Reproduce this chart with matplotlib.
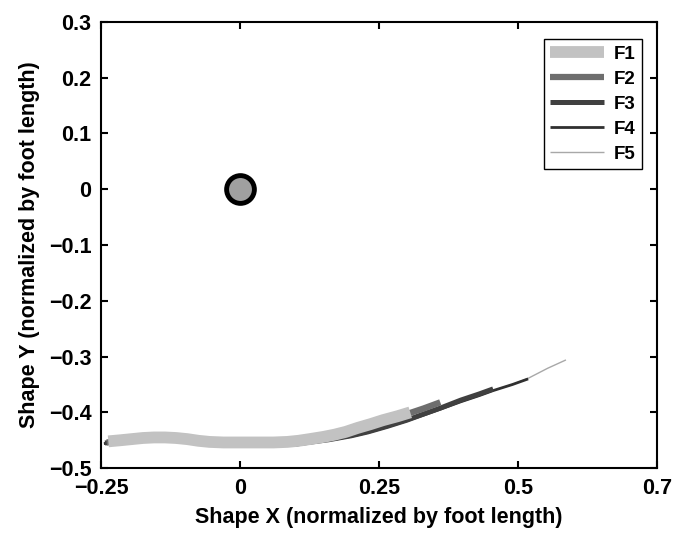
import numpy as np
import matplotlib
matplotlib.use("Agg")
import matplotlib.pyplot as plt

plt.rcParams['font.family'] = ['Liberation Sans', 'DejaVu Sans']
plt.rcParams['font.weight'] = 'bold'

# traces (x, y in foot lengths)
f1_x = [-0.237, -0.215, -0.195, -0.175, -0.155, -0.135, -0.115, -0.095, -0.075, -0.055, -0.03, 0.0, 0.03, 0.06, 0.085, 0.105, 0.125, 0.150, 0.170, 0.190, 0.211, 0.235, 0.257, 0.283, 0.306]
f1_y = [-0.452, -0.450, -0.448, -0.446, -0.445, -0.445, -0.446, -0.448, -0.451, -0.453, -0.454, -0.454, -0.454, -0.454, -0.453, -0.451, -0.448, -0.444, -0.440, -0.435, -0.428, -0.421, -0.414, -0.407, -0.400]

f2_x = [-0.240, -0.183, -0.130, -0.058, 0.0, 0.099, 0.150, 0.211, 0.257, 0.306, 0.330, 0.360]
f2_y = [-0.454, -0.447, -0.445, -0.456, -0.456, -0.456, -0.446, -0.431, -0.418, -0.401, -0.393, -0.382]

f3_x = [-0.243, -0.183, -0.130, -0.058, 0.0, 0.099, 0.160, 0.200, 0.230, 0.265, 0.300, 0.330, 0.361, 0.397, 0.430, 0.455]
f3_y = [-0.455, -0.448, -0.446, -0.457, -0.457, -0.457, -0.449, -0.442, -0.435, -0.425, -0.414, -0.403, -0.392, -0.378, -0.367, -0.358]

f4_x = [-0.245, -0.183, -0.130, -0.058, 0.0, 0.099, 0.160, 0.200, 0.230, 0.265, 0.300, 0.330, 0.361, 0.397, 0.430, 0.455, 0.490, 0.518]
f4_y = [-0.456, -0.449, -0.447, -0.458, -0.458, -0.458, -0.450, -0.443, -0.436, -0.426, -0.415, -0.405, -0.394, -0.381, -0.370, -0.361, -0.350, -0.340]

f5_x = [-0.240, -0.130, 0.0, 0.099, 0.160, 0.230, 0.300, 0.361, 0.455, 0.490, 0.518, 0.553, 0.586]
f5_y = [-0.455, -0.446, -0.457, -0.457, -0.449, -0.436, -0.414, -0.393, -0.361, -0.350, -0.339, -0.321, -0.306]

center_x = [0.0]
center_y = [0.0]

x_ticks = [-0.25, 0, 0.25, 0.5, 0.75]
x_labels = ['\u22120.25', '0', '0.25', '0.5', '0.7']
y_ticks = [0.3, 0.2, 0.1, 0, -0.1, -0.2, -0.3, -0.4, -0.5]
y_labels = ['0.3', '0.2', '0.1', '0', '\u22120.1', '\u22120.2', '\u22120.3', '\u22120.4', '\u22120.5']

fig = plt.figure(figsize=(6.74, 5.35), dpi=100)
ax = fig.add_axes([0.150, 0.125, 0.825, 0.834])

style = dict(solid_joinstyle='round', solid_capstyle='butt')
l5, = ax.plot(f5_x, f5_y, color='#a8a8a8', lw=1.0, label='F5', zorder=2, **style)
l4, = ax.plot(f4_x, f4_y, color='#303030', lw=2.0, label='F4', zorder=3, **style)
l3, = ax.plot(f3_x, f3_y, color='#404040', lw=3.6, label='F3', zorder=4, **style)
l2, = ax.plot(f2_x, f2_y, color='#6e6e6e', lw=4.5, label='F2', zorder=5, **style)
l1, = ax.plot(f1_x, f1_y, color='#c2c2c2', lw=8.5, label='F1', zorder=6, **style)

ax.plot(center_x, center_y, 'o', ms=20, mfc='#a0a0a0', mec='black', mew=3.5, zorder=7)

ax.set_xlim(-0.25, 0.75)
ax.set_ylim(-0.5, 0.3)
ax.set_xticks(x_ticks)
ax.set_xticklabels(x_labels)
ax.set_yticks(y_ticks)
ax.set_yticklabels(y_labels)
ax.tick_params(direction='in', length=5, width=1.5, top=True, right=True,
               labelsize=15.5, pad=7)
for s in ax.spines.values():
    s.set_linewidth(1.5)

ax.set_xlabel('Shape X (normalized by foot length)', fontsize=15.5, fontweight='bold', labelpad=6)
ax.set_ylabel('Shape Y (normalized by foot length)', fontsize=15.5, fontweight='bold', labelpad=6)

leg = ax.legend(handles=[l1, l2, l3, l4, l5], loc='upper right',
                bbox_to_anchor=(0.973, 0.962), borderaxespad=0, fancybox=False,
                edgecolor='black', framealpha=1, fontsize=13.5, handlelength=2.9,
                labelspacing=0.42, borderpad=0.35, handletextpad=0.5)
leg.get_frame().set_linewidth(1.0)

fig.savefig('out.png', dpi=100)
